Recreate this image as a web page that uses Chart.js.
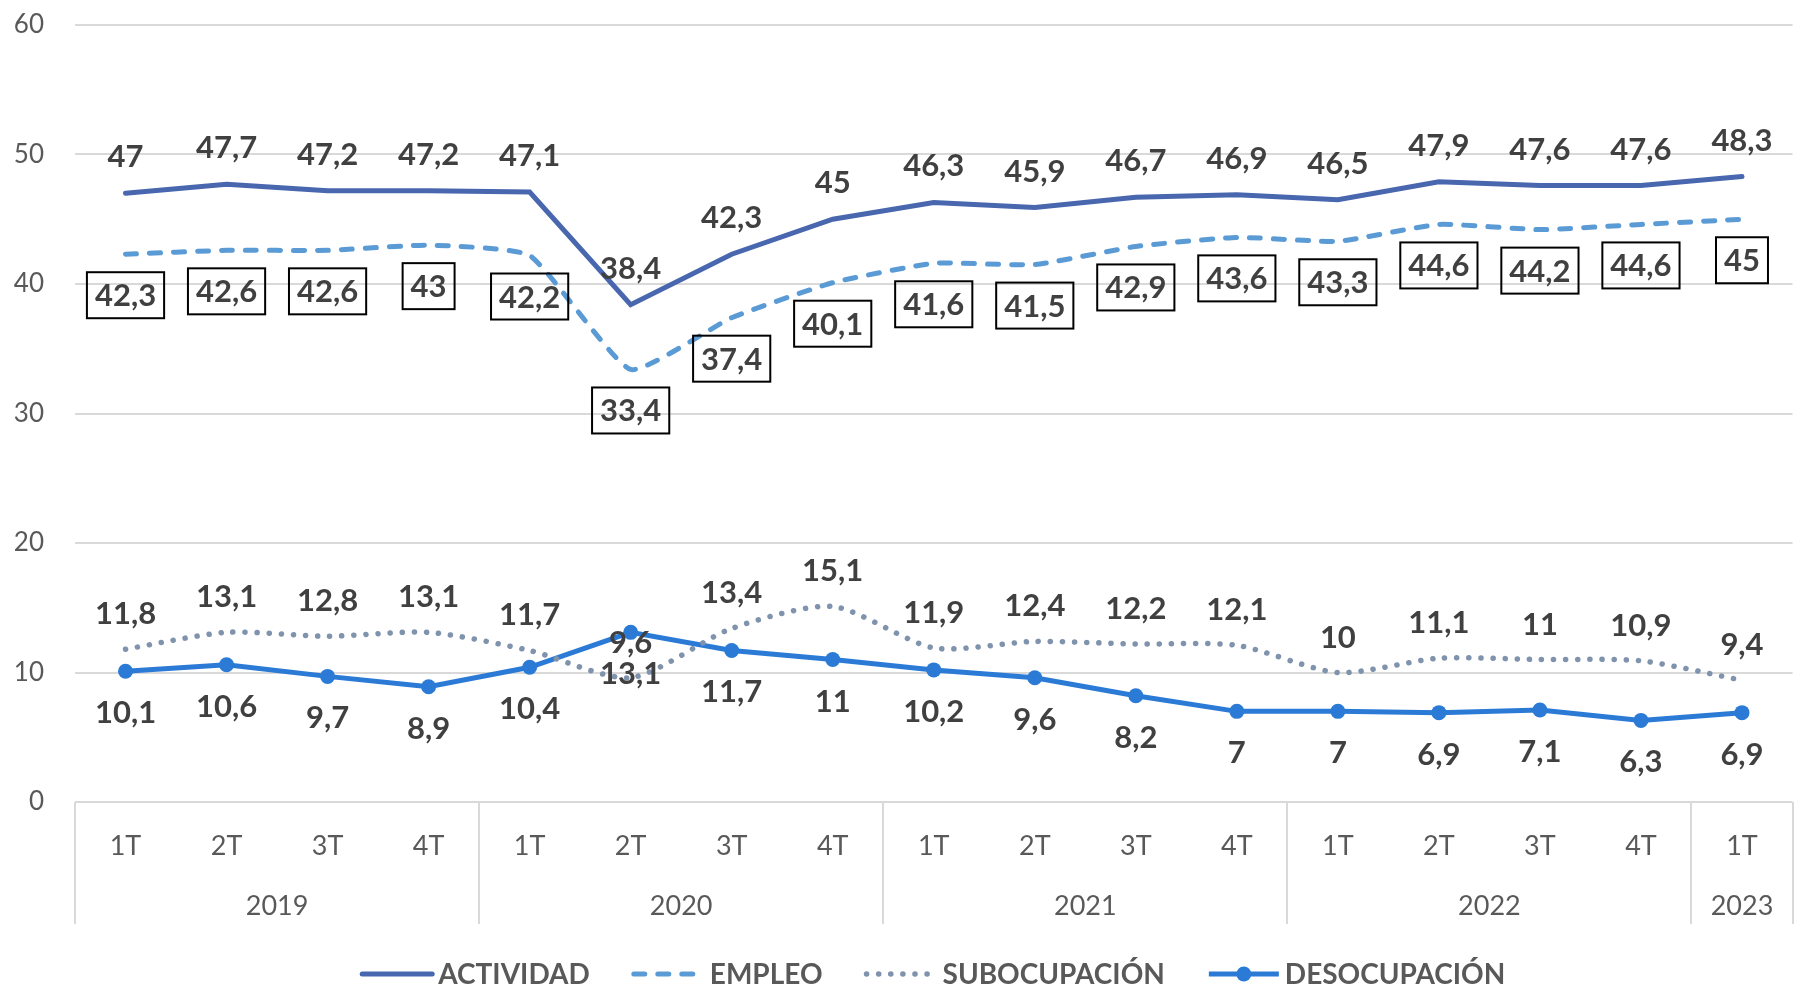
<!DOCTYPE html>
<html>
<head>
<meta charset="utf-8">
<script src="https://cdn.jsdelivr.net/npm/chart.js@4.4.0/dist/chart.umd.min.js"></script>
<style>
  html, body { margin: 0; padding: 0; background: #fff; }
  #wrap { width: 1800px; height: 994px; position: relative; }
</style>
</head>
<body>
<div id="wrap"><canvas id="chart-lines"></canvas></div>
<script>
// data
var quarters = ["1T", "2T", "3T", "4T", "1T", "2T", "3T", "4T", "1T", "2T", "3T", "4T", "1T", "2T", "3T", "4T", "1T"];
var years = ["2019", "2020", "2021", "2022", "2023"];
var yearSpans = [4, 4, 4, 4, 1];
var actividad = [47, 47.7, 47.2, 47.2, 47.1, 38.4, 42.3, 45, 46.3, 45.9, 46.7, 46.9, 46.5, 47.9, 47.6, 47.6, 48.3];
var empleo = [42.3, 42.6, 42.6, 43, 42.2, 33.4, 37.4, 40.1, 41.6, 41.5, 42.9, 43.6, 43.3, 44.6, 44.2, 44.6, 45];
var subocupacion = [11.8, 13.1, 12.8, 13.1, 11.7, 9.6, 13.4, 15.1, 11.9, 12.4, 12.2, 12.1, 10, 11.1, 11, 10.9, 9.4];
var desocupacion = [10.1, 10.6, 9.7, 8.9, 10.4, 13.1, 11.7, 11, 10.2, 9.6, 8.2, 7, 7, 6.9, 7.1, 6.3, 6.9];
var yTicks = [0, 10, 20, 30, 40, 50, 60];

var FONT = "Lato";
var GRID = "#d9d9d9";
var TEXT = "#595959";
var LABEL = "#404040";

function fmt(v) {
  return String(v).replace(".", ",");
}

// value labels (offset in px from the point, boxed or not)
var valueLabels = {
  id: "valueLabels",
  afterDatasetsDraw: function (chart) {
    var ctx = chart.ctx;
    var styles = [
      { dy: -37, box: false },
      { dy: 41, box: true },
      { dy: -36, box: false },
      { dy: 41, box: false }
    ];
    ctx.save();
    ctx.font = "bold 31px " + FONT;
    ctx.fillStyle = LABEL;
    ctx.textAlign = "center";
    ctx.textBaseline = "middle";
    chart.data.datasets.forEach(function (ds, i) {
      var meta = chart.getDatasetMeta(i);
      var st = styles[i];
      meta.data.forEach(function (pt, j) {
        var txt = fmt(ds.data[j]);
        var x = pt.x, y = pt.y + st.dy;
        if (st.box) {
          var w = ctx.measureText(txt).width + 16;
          var h = 46;
          ctx.strokeStyle = "#000";
          ctx.lineWidth = 2;
          ctx.strokeRect(x - w / 2, y - h / 2, w, h);
        }
        ctx.fillText(txt, x, y + 1);
      });
    });
    ctx.restore();
  }
};

// year row, separators and legend
var extras = {
  id: "extras",
  afterDraw: function (chart) {
    var ctx = chart.ctx;
    var xs = chart.scales.x;
    var area = chart.chartArea;
    var step = xs.getPixelForValue(1) - xs.getPixelForValue(0);
    ctx.save();
    ctx.strokeStyle = GRID;
    ctx.lineWidth = 2;
    ctx.font = "27px " + FONT;
    ctx.fillStyle = TEXT;
    ctx.textAlign = "center";
    ctx.textBaseline = "middle";
    var start = 0;
    var edges = [xs.getPixelForValue(0) - step / 2];
    years.forEach(function (yr, k) {
      var end = start + yearSpans[k] - 1;
      var cx = (xs.getPixelForValue(start) + xs.getPixelForValue(end)) / 2;
      ctx.fillText(yr, cx, 906);
      edges.push(xs.getPixelForValue(end) + step / 2);
      start = end + 1;
    });
    edges.forEach(function (ex) {
      ctx.beginPath();
      ctx.moveTo(Math.round(ex), area.bottom);
      ctx.lineTo(Math.round(ex), 924);
      ctx.stroke();
    });

    // legend
    ctx.font = "bold 28px " + FONT;
    ctx.textAlign = "left";
    var lineW = 70, gapT = 6, gapItem = 44;
    var items = chart.data.datasets;
    var total = 0;
    items.forEach(function (ds, i) {
      total += lineW + gapT + ctx.measureText(ds.label).width + (i < items.length - 1 ? gapItem : 0);
    });
    var x = (area.left + area.right) / 2 - total / 2;
    var y = 974;
    items.forEach(function (ds, i) {
      ctx.strokeStyle = ds.borderColor;
      ctx.lineWidth = ds.borderWidth;
      ctx.lineCap = ds.borderCapStyle || "butt";
      ctx.setLineDash(ds.borderDash || []);
      ctx.beginPath();
      ctx.moveTo(x, y);
      ctx.lineTo(x + lineW, y);
      ctx.stroke();
      ctx.setLineDash([]);
      if (ds.pointRadius > 0) {
        ctx.fillStyle = ds.borderColor;
        ctx.beginPath();
        ctx.arc(x + lineW / 2, y, ds.pointRadius, 0, Math.PI * 2);
        ctx.fill();
      }
      ctx.fillStyle = TEXT;
      x += lineW + gapT;
      ctx.fillText(ds.label, x, y + 1);
      x += ctx.measureText(ds.label).width + gapItem;
    });
    ctx.restore();
  }
};

var ctx = document.getElementById("chart-lines").getContext("2d");

new Chart(ctx, {
  type: "line",
  data: {
    labels: quarters,
    datasets: [
      {
        label: "ACTIVIDAD",
        data: actividad,
        borderColor: "#4967ae",
        borderWidth: 5,
        pointRadius: 0,
        tension: 0,
        borderCapStyle: "round"
      },
      {
        label: "EMPLEO",
        data: empleo,
        borderColor: "#5b9bd5",
        borderWidth: 5,
        borderDash: [11, 13],
        borderCapStyle: "round",
        pointRadius: 0,
        tension: 0.15
      },
      {
        label: "SUBOCUPACIÓN",
        data: subocupacion,
        borderColor: "#8093ad",
        borderWidth: 5.5,
        borderDash: [0.1, 12],
        borderCapStyle: "round",
        pointRadius: 0,
        tension: 0.25
      },
      {
        label: "DESOCUPACIÓN",
        data: desocupacion,
        borderColor: "#2b7bd6",
        backgroundColor: "#2b7bd6",
        borderWidth: 5,
        pointRadius: 7.5,
        pointBorderWidth: 0,
        tension: 0
      }
    ]
  },
  plugins: [valueLabels, extras],
  options: {
    responsive: true,
    maintainAspectRatio: false,
    animation: false,
    layout: {
      padding: { top: 25, right: 7, bottom: 0, left: 0 }
    },
    plugins: {
      legend: { display: false },
      tooltip: { enabled: false }
    },
    scales: {
      y: {
        min: 0,
        max: 60,
        afterFit: function (scale) {
          scale.width = 75;
          scale.paddingTop = 0;
          scale.paddingBottom = 0;
        },
        afterBuildTicks: function (scale) {
          scale.ticks = yTicks.map(function (v) { return { value: v }; });
        },
        border: { display: false },
        grid: {
          color: GRID,
          lineWidth: 2,
          drawTicks: false
        },
        ticks: {
          padding: 31,
          color: TEXT,
          font: { size: 26, family: FONT }
        }
      },
      x: {
        offset: true,
        afterFit: function (scale) { scale.height = 192; },
        border: { display: false },
        grid: { display: false, drawTicks: false, offset: true },
        ticks: {
          padding: 28,
          maxRotation: 0,
          autoSkip: false,
          color: TEXT,
          font: { size: 27, family: FONT }
        }
      }
    }
  }
});
</script>
</body>
</html>
